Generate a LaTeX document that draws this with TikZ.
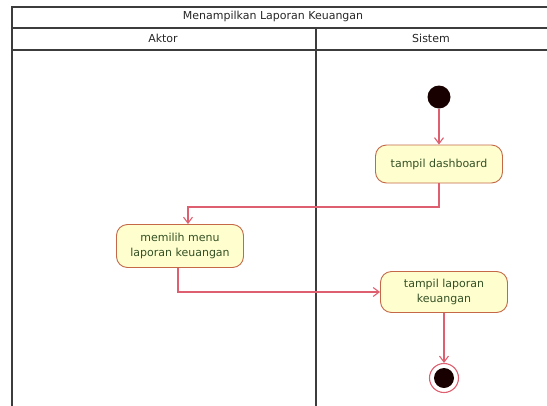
\documentclass[tikz,border=0pt]{standalone}
\usepackage{fontspec}
\setmainfont{DejaVu Sans}
\usetikzlibrary{arrows.meta}
\definecolor{flow}{RGB}{222,96,112}
\definecolor{actfill}{RGB}{254,254,206}
\definecolor{actborder}{RGB}{196,104,72}
\definecolor{acttext}{RGB}{52,80,36}
\definecolor{frameline}{RGB}{60,60,60}
\begin{document}
\begin{tikzpicture}[x=1pt,y=-1pt,
  frame/.style={draw=frameline,line width=1.2pt},
  activity/.style={draw=actborder,fill=actfill,rounded corners=11pt,line width=0.9pt,
    minimum height=40pt,align=center,text=acttext,font=\fontsize{11}{15}\selectfont,inner sep=2pt},
  flowline/.style={draw=flow,line width=1.1pt,-{Straight Barb[length=6pt,width=9pt]}},
  header/.style={font=\fontsize{11}{13}\selectfont,text=black!85}]
\useasboundingbox (0,0) rectangle (547,405);
% swimlane frame
\draw[frame] (12,410) -- (12,7) -- (552,7);
\draw[frame] (12,28) -- (552,28);
\draw[frame] (12,50) -- (552,50);
\draw[frame] (316,28) -- (316,410);
\node[header] (title) at (273,16) {Menampilkan Laporan Keuangan};
\node[header] (aktor) at (163,38) {Aktor};
\node[header] (sistem) at (431,38) {Sistem};
% nodes
\node[circle,fill=black!90!red,inner sep=0pt,minimum size=23pt] (start) at (439,97) {};
\node[activity,minimum width=127pt,minimum height=38pt] (dash) at (439,164) {tampil dashboard};
\node[activity,minimum width=127pt,minimum height=43pt] (menu) at (180,246) {memilih menu\\laporan keuangan};
\node[activity,minimum width=127pt,minimum height=41pt] (lap) at (444,292) {tampil laporan\\keuangan};
\node[circle,draw=flow,line width=1.1pt,fill=white,inner sep=0pt,minimum size=29pt] (end) at (444,378) {};
\node[circle,fill=black!90!red,inner sep=0pt,minimum size=20pt] (endin) at (end.center) {};
% transitions
\draw[flowline] (start) -- (dash);
\draw[flowline] (dash.south) |- (188,207) -- (menu.north -| 188,0);
\draw[flowline] (menu.south -| 178,0) |- (lap.west);
\draw[flowline] (lap) -- (end);
\end{tikzpicture}
\end{document}
